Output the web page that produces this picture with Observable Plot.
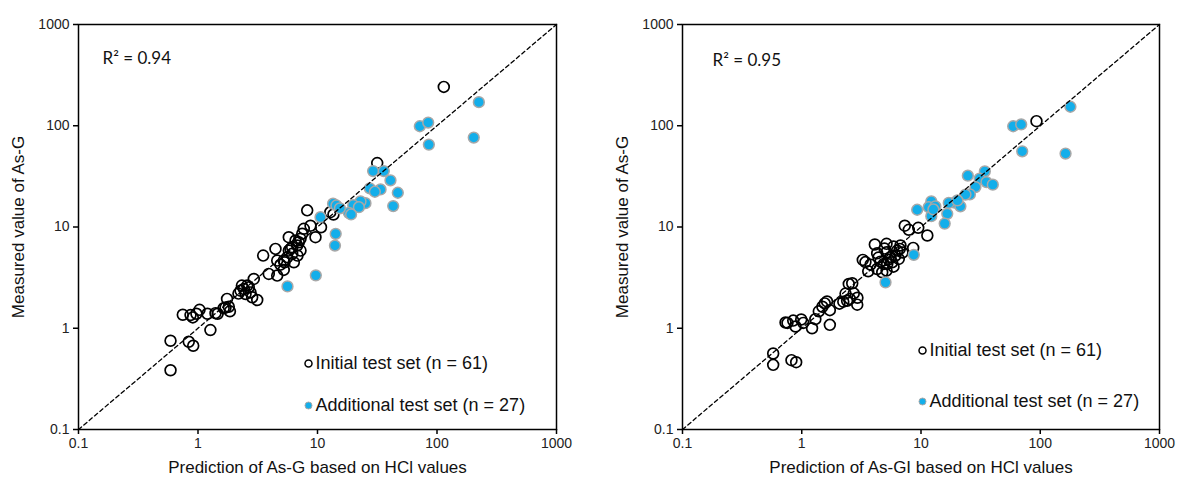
<!DOCTYPE html>
<html><head><meta charset="utf-8">
<script src="https://cdn.jsdelivr.net/npm/d3@7"></script>
<script src="https://cdn.jsdelivr.net/npm/@observablehq/plot@0.6"></script>
<style>
body{margin:0;background:#fff;}
#wrap{display:flex;width:1178px;height:477px;overflow:hidden;}
#wrap svg{flex:none;}
</style></head><body><div id="wrap"></div>
<script>
// ---- Left panel: As-G (prediction vs measured) ----
const leftInitialPred = [114,31.6,8.2,12.8,13.6,8.74,10.7,9.62,5.75,7.45,7.21,6.97,6.76,7.21,6.14,5.75,6.14,5.58,6.34,5.22,4.60,4.45,3.51,3.91,4.60,5.22,2.93,2.58,2.42,2.27,2.50,2.75,2.84,3.13,2.66,2.33,1.75,1.81,1.70,1.64,1.85,1.40,1.46,1.27,1.03,0.746,0.866,0.905,0.837,0.912,0.589,0.589,6.55,5.94,5.30,6.80,4.90,2.18,0.97,1.20,7.68];
const leftInitialMeas = [242,42.8,14.6,14.0,13.3,10.3,9.95,7.93,7.93,8.57,7.64,7.07,6.56,5.85,6.31,5.85,5.43,5.02,4.48,4.66,4.66,6.08,5.22,3.44,3.31,3.77,3.07,2.64,2.44,2.35,2.18,2.26,2.02,1.90,2.54,2.64,1.95,1.63,1.60,1.58,1.47,1.41,1.39,0.96,1.52,1.36,1.35,1.28,0.735,0.671,0.752,0.385,7.35,6.08,4.48,5.22,4.25,2.20,1.39,1.39,9.6];
const leftAddPred = [224,71.8,84.4,85.5,203,29.2,35.9,40.8,47.0,27.4,33.7,30.2,43.0,25.2,22.9,19.9,22.2,18.3,19.1,13.5,14.4,15.4,10.6,14.2,14.0,9.68,5.61];
const leftAddMeas = [171,98.9,107.6,65.1,76.4,35.7,35.7,28.9,21.8,24.1,23.5,22.3,16.1,17.2,17.9,16.4,15.7,13.8,13.3,17.0,16.3,15.3,12.5,8.57,6.56,3.33,2.59];

// ---- Right panel: As-GI ----
const rightInitialPred = [93.0,7.31,7.90,9.48,11.3,8.60,4.10,5.14,4.29,5.14,6.31,6.64,6.11,6.51,5.55,5.73,5.21,4.88,5.14,4.73,4.29,3.61,3.25,2.65,2.48,2.73,2.53,2.40,2.23,2.92,1.63,1.56,1.72,1.39,1.30,1.22,1.72,0.99,0.848,0.731,0.887,0.576,0.576,0.820,0.898,0.759,5.88,7.00,5.34,4.57,5.88,4.94,4.40,3.77,2.93,2.07,1.03,1.49,2.33,3.42,6.73];
const rightInitialMeas = [111,10.3,9.38,9.82,8.24,6.22,6.71,6.82,5.50,5.63,5.85,6.08,5.22,4.84,5.02,4.48,4.32,4.32,3.71,3.57,3.85,3.65,4.73,2.78,2.74,2.21,1.95,1.87,1.83,1.71,1.84,1.76,1.51,1.47,1.23,1.00,1.08,1.22,1.19,1.14,1.04,0.563,0.435,0.484,0.462,1.13,6.41,5.59,4.77,4.55,4.06,6.12,4.99,4.25,2.00,1.75,1.13,1.63,2.20,4.50,6.56];
const rightAddPred = [179,59.3,69.2,70.6,163,24.7,34.3,31.0,35.4,40.0,28.6,25.7,23.6,19.1,17.1,21.4,12.2,11.6,13.2,16.6,12.2,15.8,9.29,8.70,5.04,12.7,20.2];
const rightAddMeas = [154,98.9,103,55.9,53.1,32.1,35.5,30.0,27.8,26.2,24.8,21.0,20.9,17.4,17.3,16.0,17.9,15.7,16.0,13.5,12.8,10.8,14.8,5.31,2.84,14.9,18.3];

const axisTicks = [0.1, 1, 10, 100, 1000];
const refLine = [0.1, 1000];
const legendLabels = ["Initial test set (n = 61)", "Additional test set (n = 27)"];
const panels = [
  {xTitle: "Prediction of As-G based on HCl values", yTitle: "Measured value of As-G", r2: "R² = 0.94",
   ip: leftInitialPred, im: leftInitialMeas, ap: leftAddPred, am: leftAddMeas},
  {xTitle: "Prediction of As-GI based on HCl values", yTitle: "Measured value of As-G", r2: "R² = 0.95",
   ip: rightInitialPred, im: rightInitialMeas, ap: rightAddPred, am: rightAddMeas}
];
const layout = [
  {ml: 78, mr: 33, r2dx: 24, r2dy: 34, legDx: 230, legDy: [339, 381]},
  {ml: 93, mr: 19, r2dx: 30, r2dy: 36, legDx: 240, legDy: [326, 377]}
];

const BLUE = "#13AEEA";
const sans = "Liberation Sans, Arial, sans-serif";

panels.forEach((p, i) => {
  const L = layout[i];
  const initial = p.ip.map((x, k) => ({x, y: p.im[k]}));
  const added = p.ap.map((x, k) => ({x, y: p.am[k]}));
  const chart = Plot.plot({
    width: 589, height: 477,
    marginLeft: L.ml, marginRight: L.mr, marginTop: 24, marginBottom: 48,
    style: {fontFamily: sans, fontSize: "14px", color: "#222", background: "white"},
    x: {type: "log", domain: [0.1, 1000]},
    y: {type: "log", domain: [0.1, 1000]},
    marks: [
      Plot.axisX({ticks: axisTicks, tickFormat: d => String(d), tickSize: 5, tickPadding: 4, label: null, stroke: "black", strokeWidth: 1.5}),
      Plot.axisY({ticks: axisTicks, tickFormat: d => String(d), tickSize: 5, tickPadding: 4, label: null, stroke: "black", strokeWidth: 1.5}),
      Plot.dot(initial, {x: "x", y: "y", r: 5.4, stroke: "black", strokeWidth: 1.7, fill: "none"}),
      Plot.dot(added, {x: "x", y: "y", r: 5.4, fill: BLUE, stroke: "#A8A8A8", strokeWidth: 1.5}),
      Plot.line(refLine, {x: d => d, y: d => d, stroke: "black", strokeWidth: 1.3, strokeDasharray: "4,3"}),
      Plot.frame({stroke: "black", strokeWidth: 1.5}),
      Plot.text([p.r2], {frameAnchor: "top-left", dx: L.r2dx, dy: L.r2dy, textAnchor: "start", lineAnchor: "middle",
        fontFamily: "Lato, Open Sans, sans-serif", fontSize: 17, fill: "#111"}),
      Plot.text([p.yTitle], {frameAnchor: "left", dx: -60, rotate: -90, textAnchor: "middle", lineAnchor: "middle", fontSize: 17, fill: "#111"}),
      Plot.text([p.xTitle], {frameAnchor: "bottom", dy: 38, textAnchor: "middle", lineAnchor: "middle", fontSize: 17, fill: "#111"}),
      Plot.dot([legendLabels[0]], {frameAnchor: "top-left", dx: L.legDx, dy: L.legDy[0], r: 3.5, stroke: "black", strokeWidth: 1.5, fill: "none"}),
      Plot.dot([legendLabels[1]], {frameAnchor: "top-left", dx: L.legDx, dy: L.legDy[1], r: 3.5, fill: BLUE, stroke: "#A8A8A8", strokeWidth: 1}),
      Plot.text([legendLabels[0]], {frameAnchor: "top-left", dx: L.legDx + 7, dy: L.legDy[0], textAnchor: "start", lineAnchor: "middle", fontSize: 18, fill: "#111"}),
      Plot.text([legendLabels[1]], {frameAnchor: "top-left", dx: L.legDx + 7, dy: L.legDy[1], textAnchor: "start", lineAnchor: "middle", fontSize: 18, fill: "#111"})
    ]
  });
  document.getElementById("wrap").appendChild(chart);
});
</script></body></html>
